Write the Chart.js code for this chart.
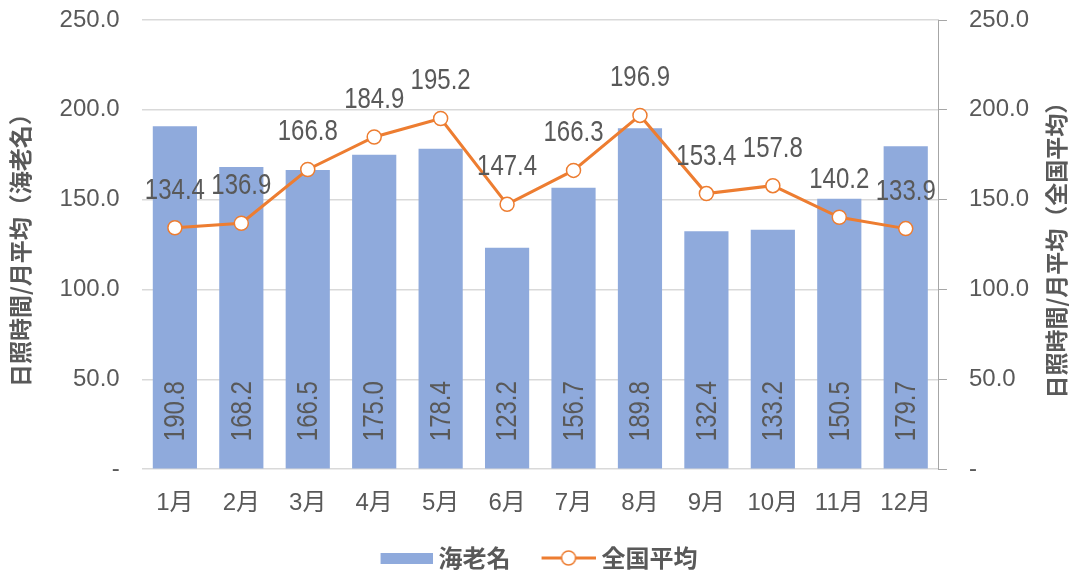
<!DOCTYPE html>
<html><head><meta charset="utf-8">
<script src="https://cdn.jsdelivr.net/npm/chart.js@4"></script>
<style>html,body{margin:0;padding:0;background:#fff}#wrap{width:1078px;height:572px}</style>
</head><body><div id="wrap"><canvas id="c" width="1078" height="572"></canvas></div>
<script>
const categories = ['1月','2月','3月','4月','5月','6月','7月','8月','9月','10月','11月','12月'];
const ebinaValues = [190.8,168.2,166.5,175.0,178.4,123.2,156.7,189.8,132.4,133.2,150.5,179.7];
const nationalValues = [134.4,136.9,166.8,184.9,195.2,147.4,166.3,196.9,153.4,157.8,140.2,133.9];
const seriesNames = ['海老名','全国平均'];
const axisTitles = ['日照時間/月平均（海老名）','日照時間/月平均（全国平均）'];

const BLUE = '#8FAADC', ORANGE = '#ED7D31', GREY = '#595959';
const NUMFONT = '"Liberation Sans", "Noto Sans CJK JP", sans-serif';
const TICKFONT = '"Liberation Sans", "Noto Sans CJK JP", sans-serif';
const CJKFONT = '"Noto Sans CJK JP", sans-serif';
const LEG_W = 71, LEG_PAD = 8, ICON_C = LEG_W + 12;

function makeBarIcon(){
  const c = document.createElement('canvas'); c.width = ICON_C; c.height = 11;
  const x = c.getContext('2d'); x.fillStyle = BLUE; x.fillRect(ICON_C - 52, 0, 52, 11); return c;
}
function makeLineIcon(){
  const c = document.createElement('canvas'); c.width = ICON_C; c.height = 18;
  const x = c.getContext('2d'); const s = ICON_C - 54;
  x.strokeStyle = ORANGE; x.lineWidth = 3; x.beginPath(); x.moveTo(s,9); x.lineTo(ICON_C,9); x.stroke();
  x.beginPath(); x.arc(s + 27,9,7,0,Math.PI*2); x.fillStyle='#fff'; x.fill(); x.lineWidth=1.5; x.stroke();
  return c;
}

const labelPlugin = {
  id: 'valueLabels',
  afterLayout(chart){
    const shift = (LEG_W - 46) / 2;
    if (chart.legend) { chart.legend.left -= shift; chart.legend.right -= shift; }
  },
  afterDatasetsDraw(chart){
    const ctx = chart.ctx;
    const area = chart.chartArea;
    ctx.save();
    ctx.fillStyle = GREY;
    ctx.font = '30px ' + NUMFONT;
    const barMeta = chart.getDatasetMeta(0);
    barMeta.data.forEach((el,i)=>{
      ctx.save();
      ctx.translate(el.x, area.bottom - 28);
      ctx.rotate(-Math.PI/2);
      ctx.scale(0.8, 1);
      ctx.textAlign = 'left'; ctx.textBaseline = 'middle';
      ctx.fillText(ebinaValues[i].toFixed(1), 0, 1);
      ctx.restore();
    });
    const lineMeta = chart.getDatasetMeta(1);
    lineMeta.data.forEach((el,i)=>{
      ctx.save();
      ctx.translate(el.x, el.y - 29);
      ctx.scale(0.8, 1);
      ctx.textAlign = 'center'; ctx.textBaseline = 'alphabetic';
      ctx.fillText(nationalValues[i].toFixed(1), 0, 0);
      ctx.restore();
    });
    ctx.restore();
  },
  afterDraw(chart){
    const ctx = chart.ctx;
    const s = chart.scales.y1, area = chart.chartArea;
    ctx.save();
    ctx.fillStyle = GREY;
    ctx.font = 'bold 23px ' + CJKFONT;
    ctx.translate(s.right - 16, (area.top + area.bottom) / 2);
    ctx.rotate(-Math.PI/2);
    ctx.textAlign = 'center'; ctx.textBaseline = 'middle';
    ctx.fillText(axisTitles[1], 0, 0);
    ctx.restore();
  }
};

const tickCb = v => v === 0 ? '-' : v.toFixed(1);
const trimPad = s => { s.paddingTop = 0; s.paddingBottom = 0; };

new Chart(document.getElementById('c'), {
  data: {
    labels: categories,
    datasets: [
      { type:'bar', label: seriesNames[0], data: ebinaValues, backgroundColor: BLUE, yAxisID:'y',
        barPercentage: 0.665, categoryPercentage: 1.0, order: 2 },
      { type:'line', label: seriesNames[1], data: nationalValues, borderColor: ORANGE, borderWidth: 3,
        pointRadius: 7, pointHoverRadius: 7, pointBackgroundColor:'#fff', pointBorderColor: ORANGE,
        pointBorderWidth: 1.5, tension: 0, yAxisID:'y1', order: 1 }
    ]
  },
  options: {
    responsive: false, animation: false, devicePixelRatio: 1,
    layout: { padding: { left: 6, right: 6, top: 20, bottom: -8 } },
    plugins: {
      tooltip: { enabled: false },
      legend: {
        position: 'bottom',
        labels: {
          usePointStyle: true, pointStyleWidth: LEG_W, padding: LEG_PAD,
          color: GREY, font: { family: CJKFONT, size: 24, weight: 'bold' },
          generateLabels: () => [
            { text: seriesNames[0], pointStyle: makeBarIcon(), fontColor: GREY, datasetIndex: 0, lineWidth: 0 },
            { text: seriesNames[1], pointStyle: makeLineIcon(), fontColor: GREY, datasetIndex: 1, lineWidth: 0 }
          ]
        }
      }
    },
    scales: {
      x: {
        grid: { display: false, drawTicks: false }, border: { display: false },
        ticks: { color: GREY, font: { family: TICKFONT, size: 24 }, padding: 20 }
      },
      y: {
        position: 'left', min: 0, max: 250, afterFit: trimPad,
        grid: { color: '#d9d9d9', lineWidth: 1.5, drawTicks: false }, border: { display: false },
        ticks: { stepSize: 50, callback: tickCb, color: GREY, font: { family: TICKFONT, size: 24 }, padding: 22 },
        title: { display: true, text: axisTitles[0], color: GREY, font: { family: CJKFONT, size: 23, weight: 'bold' }, padding: { top: 0, bottom: 4 } }
      },
      y1: {
        position: 'right', min: 0, max: 250,
        afterFit: s => { trimPad(s); s.width += 21; },
        grid: { drawOnChartArea: false, drawTicks: true, tickLength: 8, tickColor: '#a6a6a6' },
        border: { display: true, color: '#a6a6a6' },
        ticks: { stepSize: 50, callback: tickCb, color: GREY, font: { family: TICKFONT, size: 24 }, padding: 22 },
        title: { display: false }
      }
    }
  },
  plugins: [labelPlugin]
});
</script>
</body></html>
